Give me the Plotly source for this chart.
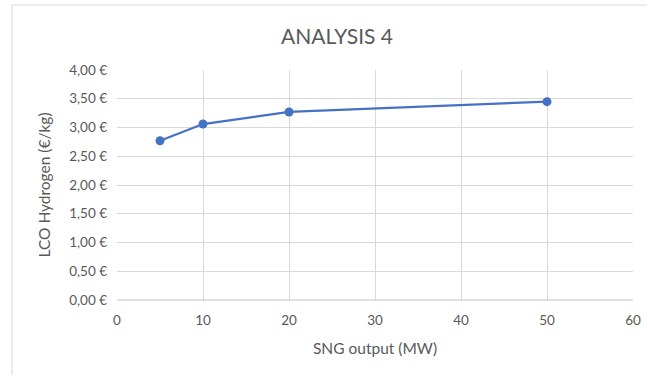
import plotly.graph_objects as go

# SNG output (MW) vs levelised cost of hydrogen (€/kg)
sng_output_mw = [5, 10, 20, 50]
lco_hydrogen = [2.77, 3.06, 3.27, 3.45]

y_tick_values = [0, 0.5, 1.0, 1.5, 2.0, 2.5, 3.0, 3.5, 4.0]
y_tick_labels = ["0,00 €", "0,50 €", "1,00 €", "1,50 €", "2,00 €",
                 "2,50 €", "3,00 €", "3,50 €", "4,00 €"]
x_tick_values = [0, 10, 20, 30, 40, 50, 60]

W, H = 648, 376
ML, MR, MT, MB = 117, 15, 70, 76
PW, PH = W - ML - MR, H - MT - MB

fig = go.Figure()
fig.add_trace(go.Scatter(
    x=sng_output_mw, y=lco_hydrogen,
    mode="lines+markers",
    line=dict(color="#4472C4", width=2.25),
    marker=dict(color="#4472C4", size=9),
    showlegend=False,
))

font_family = "Lato, 'Open Sans', sans-serif"
grey = "#595959"
tick_font = dict(family=font_family, size=13.5, color=grey)
axis_title_font = dict(family=font_family, size=15.5, color=grey)

fig.update_layout(
    width=W, height=H,
    autosize=False,
    margin=dict(l=ML, r=MR, t=MT, b=MB, autoexpand=False),
    paper_bgcolor="white",
    plot_bgcolor="white",
    title=dict(
        text="ANALYSIS 4",
        font=dict(family=font_family, size=21, color=grey),
        x=337 / W, xanchor="center", xref="container",
        y=1 - 37 / H, yanchor="middle", yref="container",
    ),
    xaxis=dict(
        range=[0, 60],
        automargin=False,
        tickvals=x_tick_values,
        showgrid=True, gridcolor="#d9d9d9", gridwidth=1,
        zeroline=False,
        showline=False,
        ticks="",
        ticklabelstandoff=10,
        tickfont=tick_font,
        title=dict(text="SNG output (MW)", font=axis_title_font, standoff=16),
    ),
    yaxis=dict(
        range=[0, 4.0],
        automargin=False,
        tickvals=y_tick_values,
        ticktext=y_tick_labels,
        showgrid=True, gridcolor="#d9d9d9", gridwidth=1,
        zeroline=False,
        showline=False,
        ticks="",
        ticklabelstandoff=9,
        tickfont=tick_font,
        title=dict(text="LCO Hydrogen (€/kg)", font=axis_title_font, standoff=14),
    ),
    shapes=[
        # bottom axis line
        dict(type="line", xref="x domain", yref="y domain",
             x0=0, x1=1, y0=0, y1=0,
             line=dict(color="#bfbfbf", width=1)),
        # outer chart border: left and top edges, kept inside the page
        dict(type="line", xref="paper", yref="paper",
             x0=(12 - ML) / PW, x1=(12 - ML) / PW,
             y0=-(MB - 1) / PH, y1=1 + (MT - 5) / PH,
             line=dict(color="#d9d9d9", width=1), layer="below"),
        dict(type="line", xref="paper", yref="paper",
             x0=(12 - ML) / PW, x1=(W - 1 - ML) / PW,
             y0=1 + (MT - 5) / PH, y1=1 + (MT - 5) / PH,
             line=dict(color="#d9d9d9", width=1), layer="below"),
    ],
)

fig.write_html("out.html")
